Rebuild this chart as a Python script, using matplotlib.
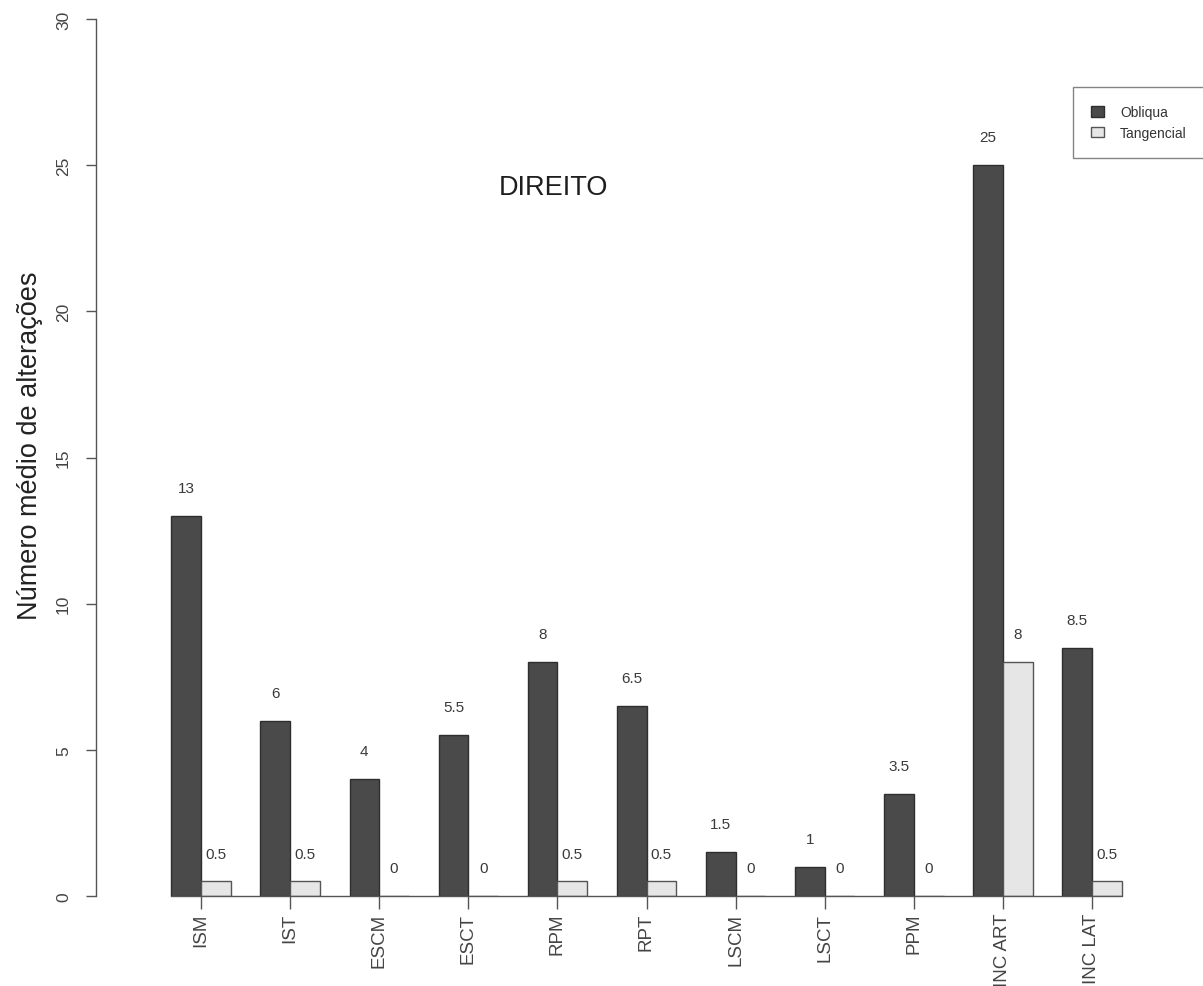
import matplotlib
matplotlib.use("Agg")
import matplotlib.pyplot as plt
import numpy as np

categories = ["ISM", "IST", "ESCM", "ESCT", "RPM", "RPT", "LSCM", "LSCT", "PPM",
              "INC ART", "INC LAT"]
obliqua = [13, 6, 4, 5.5, 8, 6.5, 1.5, 1, 3.5, 25, 8.5]
tangencial = [0.5, 0.5, 0, 0, 0.5, 0.5, 0, 0, 0, 8, 0.5]
value_text_obl = ["13", "6", "4", "5.5", "8", "6.5", "1.5", "1", "3.5", "25", "8.5"]
value_text_tan = ["0.5", "0.5", "0", "0", "0.5", "0.5", "0", "0", "0", "8", "0.5"]
series_names = ["Obliqua", "Tangencial"]
y_ticks = [0, 5, 10, 15, 20, 25, 30]

FONT = ["Liberation Sans", "DejaVu Sans"]
plt.rcParams["font.family"] = FONT

W, H = 1203, 987
fig = plt.figure(figsize=(W / 100, H / 100), dpi=100)

# axes placed in pixel terms
left_px, right_px, top_px, bottom_px = 96, 1150, 20, 897
ax = fig.add_axes([left_px / W, 1 - bottom_px / H,
                   (right_px - left_px) / W, (bottom_px - top_px) / H])

# barplot geometry: two unit-width bars per group, one unit gap between groups
n = len(categories)
starts = 1 + 3 * np.arange(n)
x_obl = starts + 0.5
x_tan = starts + 1.5
centers = starts + 1.0

dark = "#4a4a4a"
light = "#e6e6e6"
ax.bar(x_obl, obliqua, width=1.0, color=dark, edgecolor="#2e2e2e", linewidth=1.0,
       label=series_names[0], zorder=2)
ax.bar(x_tan, tangencial, width=1.0, color=light, edgecolor="#555555", linewidth=1.0,
       label=series_names[1], zorder=2)

txt_color = "#3a3a3a"
for x, v, s in zip(x_obl, obliqua, value_text_obl):
    ax.text(x, v + 0.95, s, ha="center", va="center", fontsize=11, color=txt_color)
for x, v, s in zip(x_tan, tangencial, value_text_tan):
    ax.text(x, v + 0.95, s, ha="center", va="center", fontsize=11, color=txt_color)

# baseline under the bars
ax.plot([starts[0], starts[-1] + 2], [0, 0], color="#555555", lw=1.0, zorder=3,
        clip_on=False)

ax.text(13.85, 24.25, "DIREITO", ha="center", va="center", fontsize=19.5, color="#1e1e1e")

px_per_unit = 29.7
x0_px = 141.6
ax.set_xlim((left_px - x0_px) / px_per_unit, (right_px - x0_px) / px_per_unit)
ax.set_ylim(0, 30)

for side in ["top", "right", "bottom"]:
    ax.spines[side].set_visible(False)
ax.spines["left"].set_bounds(0, 30)
ax.spines["left"].set_color("#555555")
ax.spines["left"].set_linewidth(1.0)

ax.set_yticks(y_ticks)
ax.set_yticklabels([str(t) for t in y_ticks], rotation=90, va="center",
                   fontsize=12.5, color="#444444")
ax.tick_params(axis="y", length=7, width=1.0, color="#555555", pad=11)

ax.set_xticks(centers)
ax.set_xticklabels(categories, rotation=90, va="top", ha="center",
                   fontsize=13.5, color="#444444")
ax.tick_params(axis="x", length=9, width=1.0, color="#555555", pad=3)

ax.set_ylabel("Número médio de alterações", fontsize=19.5, color="#222222")
ax.yaxis.label.set_va("center")
ax.yaxis.set_label_coords((30 - left_px) / (right_px - left_px), 0.515)

leg = fig.legend(loc="upper left", bbox_to_anchor=(1073 / W, 1 - 88 / H),
                 fontsize=10, frameon=True, fancybox=False, edgecolor="#666666",
                 handlelength=0.9, handleheight=0.8, handletextpad=1.2,
                 borderpad=1.3, labelspacing=0.5, borderaxespad=0)
leg.get_frame().set_linewidth(1.0)
for t in leg.get_texts():
    t.set_color("#333333")

fig.savefig("out.png", dpi=100, facecolor="white")
